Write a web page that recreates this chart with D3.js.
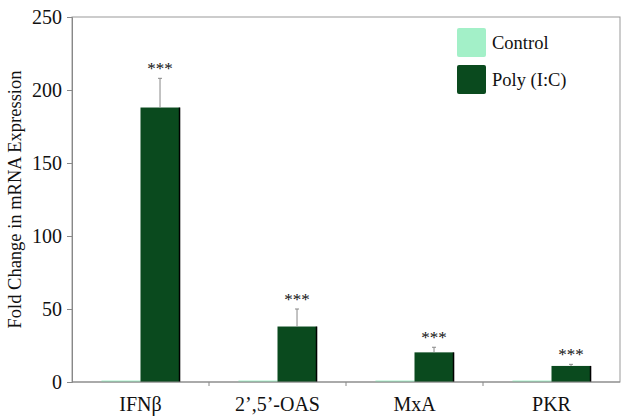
<!DOCTYPE html>
<html><head><meta charset="utf-8">
<script src="https://cdn.jsdelivr.net/npm/d3@7"></script>
<style>body{margin:0;background:#fff}svg{display:block}text{font-family:"Liberation Serif","Times New Roman",serif;fill:#111}</style>
</head><body><svg id="c" width="629" height="420"></svg>
<script>
const categories = ["IFNβ", "2’,5’-OAS", "MxA", "PKR"];
const seriesNames = ["Control", "Poly (I:C)"];
const controlValues = [1, 1, 1, 1];
const polyValues = [188, 38, 20.3, 11];
const polyErrors = [20, 12, 3.5, 1.1];
const yTicks = [0, 50, 100, 150, 200, 250];
const sigLabels = ["***", "***", "***", "***"];

const colors = ["#a3f0c8", "#0a4a1e"];
const svg = d3.select("#c");
const m = {l:72, r:9, t:17, b:38};
const W = 629, H = 420;
const x0 = d3.scaleBand().domain(categories).range([m.l, W - m.r]).paddingInner(0.43).paddingOuter(0.215);
const x1 = d3.scaleBand().domain(seriesNames).range([0, x0.bandwidth()]);
const y = d3.scaleLinear().domain([0, 250]).range([H - m.b, m.t]);

// frame
svg.append("rect").attr("x", m.l).attr("y", m.t).attr("width", W - m.r - m.l).attr("height", H - m.b - m.t)
  .attr("fill", "none").attr("stroke", "#999").attr("stroke-width", 1);

const data = categories.map((c, i) => ({c, vals:[controlValues[i], polyValues[i]], err: polyErrors[i], sig: sigLabels[i]}));

const g = svg.append("g");
data.forEach(d => {
  d.vals.forEach((v, j) => {
    const xx = x0(d.c) + x1(seriesNames[j]);
    g.append("rect").attr("x", xx).attr("y", y(v)).attr("width", x1.bandwidth()).attr("height", y(0) - y(v))
      .attr("fill", colors[j]);
    if (j === 1) {
      g.append("line").attr("x1", xx + x1.bandwidth()).attr("x2", xx + x1.bandwidth())
        .attr("y1", y(v)).attr("y2", y(0)).attr("stroke", "#000").attr("stroke-width", 1.5);
    }
  });
  const cx = x0(d.c) + x1(seriesNames[1]) + x1.bandwidth() / 2;
  const top = d.vals[1] + d.err;
  g.append("line").attr("x1", cx).attr("x2", cx).attr("y1", y(d.vals[1])).attr("y2", y(top)).attr("stroke", "#888").attr("stroke-width", 1);
  g.append("line").attr("x1", cx - 2).attr("x2", cx + 2).attr("y1", y(top)).attr("y2", y(top)).attr("stroke", "#888").attr("stroke-width", 1);
  g.append("text").attr("x", cx).attr("y", y(top) - 4).attr("text-anchor", "middle").attr("font-size", 17).text(d.sig);
});

// y axis
const ya = svg.append("g").attr("transform", `translate(${m.l},0)`).call(d3.axisLeft(y).tickValues(yTicks).tickSizeOuter(0).tickSize(5).tickPadding(5));
ya.selectAll("text").attr("font-size", 20).style("font-family", '"Liberation Serif",serif').attr("fill", "#111");
ya.selectAll("line,path").attr("stroke", "#888");

// x axis
const xa = svg.append("g").attr("transform", `translate(0,${H - m.b})`);
xa.append("line").attr("x1", m.l).attr("x2", W - m.r).attr("stroke", "#888");
const bounds = categories.slice(1).map(c => x0(c) - x0.step() * x0.paddingInner() / 2);
bounds.forEach(b => xa.append("line").attr("x1", b).attr("x2", b).attr("y1", 0).attr("y2", 4).attr("stroke", "#888"));
categories.forEach(c => xa.append("text").attr("x", x0(c) + x0.bandwidth() / 2).attr("y", 29).attr("text-anchor", "middle").attr("font-size", 20).text(c));

// y title
svg.append("text").attr("transform", `translate(21,${(m.t + H - m.b) / 2}) rotate(-90)`).attr("text-anchor", "middle")
  .attr("font-size", 18.5).text("Fold Change in mRNA Expression");

// legend
const lg = svg.append("g").attr("transform", "translate(457,28)");
seriesNames.forEach((s, i) => {
  lg.append("rect").attr("x", 0).attr("y", i * 37).attr("width", 29).attr("height", 29).attr("rx", 2).attr("fill", colors[i]);
  lg.append("text").attr("x", 35).attr("y", i * 37 + 21).attr("font-size", 18.5).text(s);
});
</script></body></html>
